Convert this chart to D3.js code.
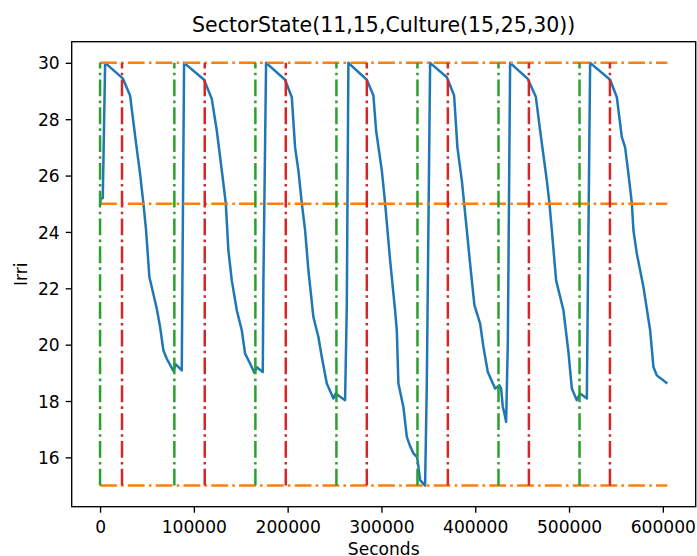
<!DOCTYPE html>
<html>
<head>
<meta charset="utf-8">
<script src="https://cdn.jsdelivr.net/npm/d3@7"></script>
<style>
  html, body { margin: 0; padding: 0; background: #fff; }
  svg { display: block; font-family: "DejaVu Sans", sans-serif; }
</style>
</head>
<body>
<svg id="chart" width="697" height="556"></svg>
<script>
// Irrigation level of sector 11 over one week (seconds)
const seconds = [
  0, 700, 2900, 5400, 24200, 32000, 34900, 38400, 42650, 46170, 49050, 52570, 60460, 63980, 67500, 71120, 78160, 80720, 87120, 87760, 89570,
  110900, 119100, 124440, 129770, 134030, 136800, 140430, 145760, 151090, 154610, 159940, 164530, 167090, 173490, 174130, 177000,
  197260, 204410, 207930, 211450, 215080, 218600, 222120, 227450, 232780, 236400, 241740, 248770, 251330, 255910, 261240, 263060, 264760,
  284380, 291420, 294300, 300380, 303900, 309220, 314560, 316370, 318070, 323400, 327030, 330550, 334070, 337700, 338550, 341210, 346540, 348360, 351880,
  369690, 377470, 380990, 385680, 388130, 391010, 394530, 399110, 405190, 408710, 413400, 421190, 423640, 425770, 427580, 429390, 431100, 432910, 434720, 437180,
  456050, 464580, 469170, 476310, 479090, 481650, 486230, 494020, 499350, 502970, 508300, 511820, 518970, 520030, 522480,
  543810, 550950, 556280, 559800, 563320, 566950, 568650, 572280, 579320, 586460, 589980, 593610, 604800
];
const irri = [
  25.0, 25.18, 25.2, 30.0, 29.45, 28.84, 28.07, 27.13, 26.07, 25.02, 24.06, 22.4, 21.28, 20.63, 19.8, 19.5, 19.07, 19.3, 19.09, 22.1, 30.0,
  29.4, 28.72, 27.6, 26.18, 25.02, 23.35, 22.28, 21.22, 20.51, 19.68, 19.33, 19.0, 19.2, 19.03, 22.17, 30.0,
  29.4, 28.78, 27.0, 26.18, 25.02, 24.06, 22.64, 20.98, 20.27, 19.56, 18.62, 18.09, 18.27, 18.15, 18.03, 21.4, 30.0,
  29.4, 28.84, 27.6, 26.18, 25.02, 23.0, 21.22, 20.51, 18.62, 17.79, 16.73, 16.4, 16.14, 16.02, 15.9, 15.19, 15.0, 18.62, 30.0,
  29.49, 28.84, 27.0, 25.83, 25.02, 24.06, 22.87, 21.4, 20.75, 19.92, 19.03, 18.44, 18.5, 18.56, 18.44, 17.79, 17.56, 17.26, 20.04, 30.0,
  29.43, 28.8, 27.6, 25.83, 25.02, 24.06, 22.28, 21.22, 19.74, 18.44, 18.03, 18.27, 18.09, 21.81, 30.0,
  29.4, 28.78, 27.36, 27.0, 26.06, 25.02, 24.06, 23.23, 22.05, 20.51, 19.21, 18.91, 18.62
];

// Irrigation start (green) and stop (red) instants
const startTimes = [0, 79200, 165600, 252000, 338400, 424800, 511200];
const stopTimes = [23400, 111600, 198000, 284400, 370800, 457200, 543600];

// Culture thresholds (wilting, target, saturation) and the time span they cover
const thresholds = [15, 25, 30];
const spanStart = 0;
const spanEnd = 604800;

const xTicks = [0, 100000, 200000, 300000, 400000, 500000, 600000];
const yTicks = [16, 18, 20, 22, 24, 26, 28, 30];

const titleText = "SectorState(11,15,Culture(15,25,30))";
const xLabel = "Seconds";
const yLabel = "Irri";

const C_LINE = "#1f77b4", C_THRESH = "#ff7f0e", C_START = "#2ca02c", C_STOP = "#d62728";

const svg = d3.select("#chart");
const axLeft = 71.7, axRight = 695.7, axTop = 41.7, axBottom = 506.7;
const FONT = 17.1, TITLE_FONT = 20.5, LW = 2.5, TICK = 6;

// 5% padding around the data range on both axes
const xPad = (spanEnd - spanStart) * 0.05;
const x = d3.scaleLinear().domain([spanStart - xPad, spanEnd + xPad]).range([axLeft, axRight]);
const yPad = (d3.max(thresholds) - d3.min(thresholds)) * 0.05;
const y = d3.scaleLinear().domain([d3.min(thresholds) - yPad, d3.max(thresholds) + yPad]).range([axBottom, axTop]);

const dash = "16.8,4.2,2.6,4.2";
const plot = svg.append("g");

// Irrigation curve
plot.append("path")
  .datum(seconds.map((s, i) => [s, irri[i]]))
  .attr("fill", "none")
  .attr("stroke", C_LINE)
  .attr("stroke-width", LW)
  .attr("stroke-linejoin", "round")
  .attr("d", d3.line().x(d => x(d[0])).y(d => y(d[1])));

// Threshold lines
plot.append("g").selectAll("line").data(thresholds).join("line")
  .attr("x1", x(spanStart)).attr("x2", x(spanEnd))
  .attr("y1", d => y(d)).attr("y2", d => y(d))
  .attr("stroke", C_THRESH).attr("stroke-width", LW)
  .attr("stroke-dasharray", dash);

// Start / stop markers, drawn bottom to top
function vlines(times, color) {
  plot.append("g").selectAll("line").data(times).join("line")
    .attr("x1", d => x(d)).attr("x2", d => x(d))
    .attr("y1", y(d3.min(thresholds))).attr("y2", y(d3.max(thresholds)))
    .attr("stroke", color).attr("stroke-width", LW)
    .attr("stroke-dasharray", dash);
}
vlines(startTimes, C_START);
vlines(stopTimes, C_STOP);

// Frame
svg.append("rect")
  .attr("x", axLeft).attr("y", axTop)
  .attr("width", axRight - axLeft).attr("height", axBottom - axTop)
  .attr("fill", "none").attr("stroke", "#000").attr("stroke-width", 1.35);

// Axes
const xAxis = svg.append("g")
  .attr("transform", `translate(0,${axBottom})`)
  .call(d3.axisBottom(x).tickValues(xTicks).tickFormat(d3.format("d"))
    .tickSize(TICK).tickSizeOuter(0).tickPadding(TICK));
xAxis.select(".domain").remove();
xAxis.selectAll(".tick line").attr("stroke", "#000").attr("stroke-width", 1.35);
xAxis.selectAll(".tick text")
  .attr("y", 26.3).attr("dy", "0")
  .attr("font-size", FONT + "px").attr("fill", "#000")
  .attr("font-family", "DejaVu Sans");

const yAxis = svg.append("g")
  .attr("transform", `translate(${axLeft},0)`)
  .call(d3.axisLeft(y).tickValues(yTicks).tickFormat(d3.format("d"))
    .tickSize(TICK).tickSizeOuter(0).tickPadding(TICK));
yAxis.select(".domain").remove();
yAxis.selectAll(".tick line").attr("stroke", "#000").attr("stroke-width", 1.35);
yAxis.selectAll(".tick text")
  .attr("dy", "0.36em")
  .attr("font-size", FONT + "px").attr("fill", "#000")
  .attr("font-family", "DejaVu Sans");

// Title and axis labels
svg.append("text")
  .attr("x", (axLeft + axRight) / 2).attr("y", 32)
  .attr("text-anchor", "middle")
  .attr("font-size", TITLE_FONT + "px").attr("fill", "#000")
  .text(titleText);

svg.append("text")
  .attr("x", (axLeft + axRight) / 2).attr("y", 555)
  .attr("text-anchor", "middle")
  .attr("font-size", FONT + "px").attr("fill", "#000")
  .text(xLabel);

svg.append("text")
  .attr("transform", `translate(27,${(axTop + axBottom) / 2}) rotate(-90)`)
  .attr("text-anchor", "middle")
  .attr("font-size", FONT + "px").attr("fill", "#000")
  .text(yLabel);
</script>
</body>
</html>
